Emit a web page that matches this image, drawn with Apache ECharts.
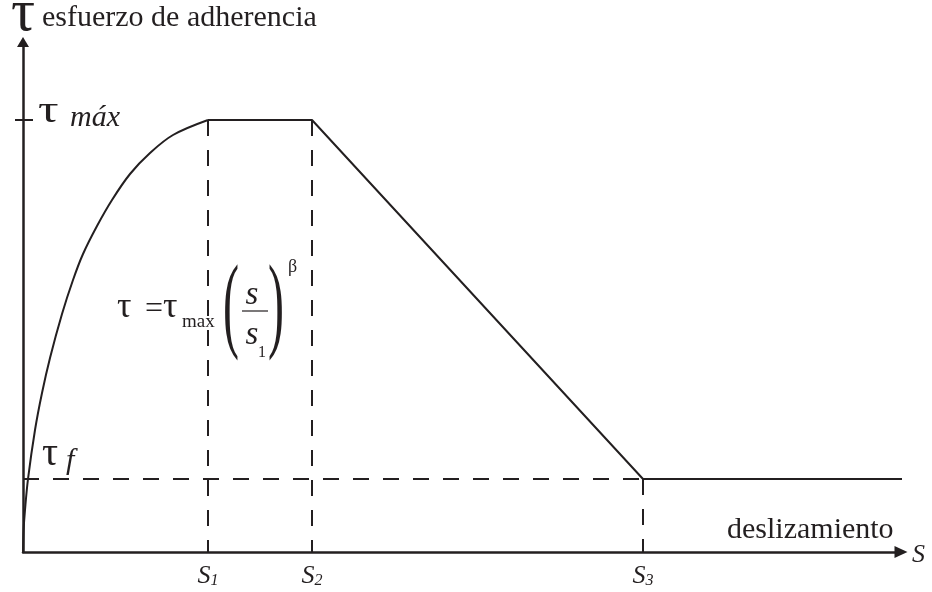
<!DOCTYPE html>
<html>
<head>
<meta charset="utf-8">
<script src="https://cdn.jsdelivr.net/npm/echarts@6/dist/echarts.min.js"></script>
<style>
  html, body { margin: 0; padding: 0; background: #ffffff; }
  #chart { width: 932px; height: 592px; }
</style>
</head>
<body>
<div id="chart"></div>
<script>
// Bond stress–slip law (τ–s), arbitrary units
const slipKeys = [1.85, 2.89, 6.20];          // s1, s2, s3
const slipKeySubs = ['1', '2', '3'];
const tauMax = 4.32;
const tauF = 0.73;
const slipEnd = 8.85;

// Ascending branch τ = τmax (s/s1)^β, sampled along the drawn curve
const riseSlip = [0, 0.006, 0.02, 0.05, 0.12, 0.19, 0.27, 0.39, 0.50, 0.60, 0.74, 0.89, 1.07, 1.27, 1.50, 1.85];
const riseTau  = [0, 0.22, 0.42, 0.73, 1.22, 1.59, 1.94, 2.38, 2.72, 2.98, 3.26, 3.52, 3.78, 3.99, 4.17, 4.32];

// Plateau, softening and residual branch
const branchSlip = [slipKeys[0], slipKeys[1], slipKeys[2], slipEnd];
const branchTau  = [tauMax, tauMax, tauF, tauF];

const X_MAX = 8.78;
const Y_MAX = 5.10;

const ink = '#231f20';
const serif = '"Liberation Serif", "Times New Roman", serif';

const chart = echarts.init(document.getElementById('chart'), null, { renderer: 'canvas' });

const pairs = (xs, ys) => xs.map((x, i) => [x, ys[i]]);

function guide(points) {
  return {
    type: 'line', data: points, symbol: 'none', silent: true, clip: false,
    lineStyle: { color: ink, width: 2, type: [16, 14] }, z: 1
  };
}

// Text placed by its baseline
function txt(text, x, base, size, opts) {
  opts = opts || {};
  const sy = opts.sy || 1;
  return {
    type: 'text', x: x, y: base - 0.34 * size * sy, silent: true,
    scaleX: opts.sx || 1, scaleY: sy,
    style: {
      text: text,
      font: (opts.italic ? 'italic ' : '') + size + 'px ' + (opts.family || serif),
      fill: ink,
      align: opts.align || 'left',
      verticalAlign: 'middle'
    }
  };
}

const option = {
  animation: false,
  backgroundColor: '#ffffff',
  grid: { left: 23, right: 31, top: 42, bottom: 40 },
  xAxis: {
    type: 'value', min: 0, max: X_MAX,
    splitLine: { show: false },
    axisLine: { lineStyle: { color: ink, width: 2.5 }, symbol: ['none', 'triangle'], symbolSize: [12, 13] },
    axisTick: { show: false },
    axisLabel: {
      customValues: slipKeys,
      margin: 11,
      formatter: function (v) {
        const i = slipKeys.indexOf(v);
        return '{s|S}{n|' + (i >= 0 ? slipKeySubs[i] : '') + '}';
      },
      rich: {
        s: { fontFamily: serif, fontStyle: 'italic', fontSize: 26, color: ink },
        n: { fontFamily: serif, fontStyle: 'italic', fontSize: 16, color: ink, verticalAlign: 'bottom' }
      }
    }
  },
  yAxis: [
    {
      type: 'value', min: 0, max: Y_MAX,
      splitLine: { show: false },
      axisLine: { lineStyle: { color: ink, width: 2.5 }, symbol: ['none', 'triangle'], symbolSize: [12, 10] },
      axisTick: { show: true, customValues: [tauMax], length: 8, lineStyle: { color: ink, width: 2 } },
      axisLabel: { show: false }
    },
    {
      type: 'value', min: 0, max: Y_MAX, position: 'left', offset: 0,
      splitLine: { show: false },
      axisLine: { show: false },
      axisTick: { show: true, inside: true, customValues: [tauMax], length: 10, lineStyle: { color: ink, width: 2 } },
      axisLabel: { show: false }
    }
  ],
  series: [
    guide([[0, tauF], [slipKeys[2], tauF]]),
    guide([[slipKeys[0], tauMax], [slipKeys[0], 0]]),
    guide([[slipKeys[1], tauMax], [slipKeys[1], 0]]),
    guide([[slipKeys[2], tauF], [slipKeys[2], 0]]),
    {
      type: 'line', data: pairs(riseSlip, riseTau), smooth: 0.35, symbol: 'none',
      lineStyle: { color: ink, width: 2 }, z: 3, clip: false
    },
    {
      type: 'line', data: pairs(branchSlip, branchTau), symbol: 'none',
      lineStyle: { color: ink, width: 2 }, z: 3, clip: false
    }
  ]
};

chart.setOption(option);

// Annotations: axis titles, level labels and the ascending-branch law
const pMax = chart.convertToPixel({ xAxisIndex: 0, yAxisIndex: 0 }, [0, tauMax]);
const pF = chart.convertToPixel({ xAxisIndex: 0, yAxisIndex: 0 }, [0, tauF]);

const parenSize = 32;

function paren(ch, cx) {
  return {
    type: 'text', x: cx, y: 310, scaleX: 1.5, scaleY: 3.3, silent: true,
    style: { text: ch, font: parenSize + 'px ' + serif, fill: ink, align: 'center', verticalAlign: 'middle' }
  };
}

chart.setOption({
  graphic: [
    txt('τ', 11, 35, 60),
    txt('esfuerzo de adherencia', 42, 28, 30),
    txt('τ', pMax[0] + 15, pMax[1] + 5, 38, { sx: 1.35 }),
    txt('máx', pMax[0] + 47, pMax[1] + 8, 30, { italic: true }),
    txt('τ', pF[0] + 19, pF[1] - 11, 40),
    txt('f', pF[0] + 43, pF[1] - 8, 30, { italic: true }),
    txt('deslizamiento', 727, 540, 30),
    txt('S', 912, 564, 26, { italic: true }),

    txt('τ', 117, 320, 36),
    txt('=', 145, 320, 32),
    txt('τ', 163, 320, 36),
    txt('max', 182, 328, 19),
    paren('(', 231),
    paren(')', 276),
    txt('s', 252, 307, 33, { italic: true, align: 'center' }),
    { type: 'line', silent: true, shape: { x1: 242, y1: 311, x2: 268, y2: 311 }, style: { stroke: ink, lineWidth: 1.2 } },
    txt('s', 252, 347, 33, { italic: true, align: 'center' }),
    txt('1', 258, 358, 16),
    txt('β', 288, 273, 18)
  ]
});
</script>
</body>
</html>
